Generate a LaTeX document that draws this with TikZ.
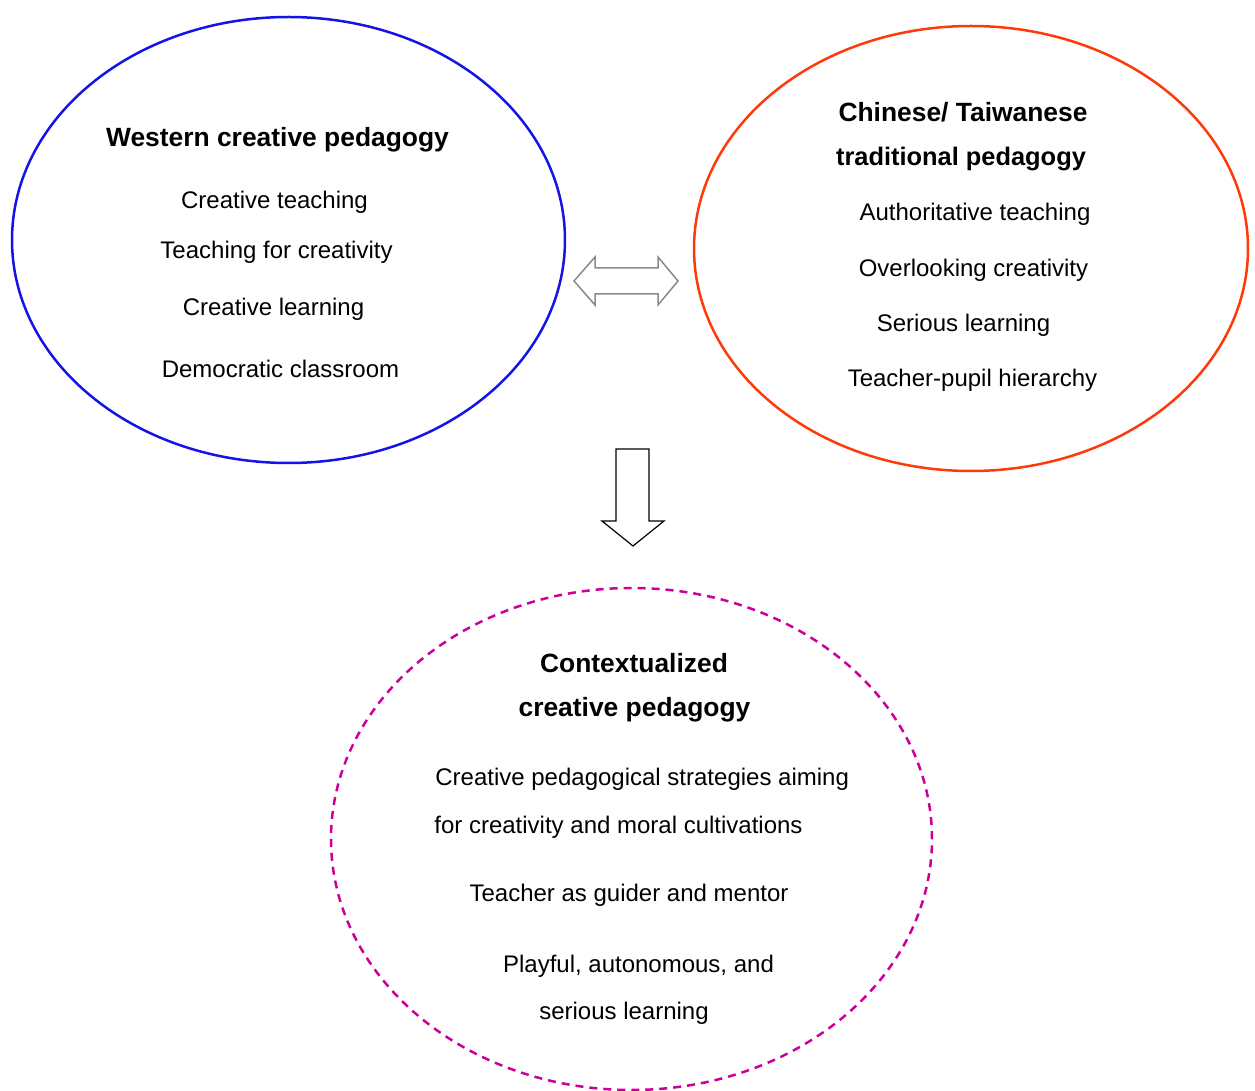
\documentclass[tikz,border=0pt]{standalone}
\usepackage{fontspec}
\setmainfont{Liberation Sans}
\usepackage{tikz}
\usetikzlibrary{shapes.geometric, positioning}
\definecolor{occblue}{HTML}{1414E6}
\definecolor{chnred}{HTML}{FF3A0A}
\definecolor{mixmag}{HTML}{CC0099}
\definecolor{arrgray}{HTML}{8A8A8A}
\tikzset{
  lobe/.style={draw, ellipse, line width=1.25pt, inner sep=0pt},
  titel/.style={font=\fontsize{13.2}{16}\selectfont\bfseries, inner sep=0pt},
  punkt/.style={font=\fontsize{12}{14}\selectfont, inner sep=0pt},
  blockpfeil/.style={line width=0.75pt, line join=miter},
}

\begin{document}
\begin{tikzpicture}[x=0.5pt, y=-0.5pt]
  \useasboundingbox (0,0) rectangle (1255,1091);
  % the three pedagogies
  \node[lobe, draw=occblue, minimum width=276.5pt, minimum height=223pt] (west) at (288.5,240) {};
  \node[lobe, draw=chnred, minimum width=277pt, minimum height=222.5pt] (east) at (971,248.5) {};
  \node[lobe, draw=mixmag, dash pattern=on 4pt off 3pt, minimum width=300.5pt, minimum height=251pt] (ctx) at (631.5,839) {};

  % western side
  \node[titel] (wt) at (277.5,139.5) {Western creative pedagogy};
  \foreach \txt/\xx/\yy [count=\i] in {Creative teaching/274.5/202, Teaching for creativity/276.5/252,
      Creative learning/273.5/309, Democratic classroom/280.5/369}
    \node[punkt] (w\i) at (\xx,\yy) {\txt};

  % chinese / taiwanese side
  \node[titel] (et1) at (963,112) {Chinese/ Taiwanese};
  \node[titel, font=\fontsize{12.7}{16}\selectfont\bfseries] (et2) at (961,159) {traditional pedagogy};
  \foreach \txt/\xx/\yy [count=\i] in {Authoritative teaching/975/214, Overlooking creativity/973.5/270,
      Serious learning/963.5/325, Teacher-pupil hierarchy/972.5/380}
    \node[punkt] (e\i) at (\xx,\yy) {\txt};

  % contextualized result
  \node[titel] (ct1) at (634,663) {Contextualized};
  \node[titel] (ct2) at (634.5,710) {creative pedagogy};
  \node[punkt, anchor=west] (c1) at (435,779) {Creative pedagogical strategies aiming};
  \node[punkt, anchor=west] (c2) at (434,827) {for creativity and moral cultivations};
  \node[punkt] (c3) at (629,895) {Teacher as guider and mentor};
  \node[punkt] (c4) at (638.5,966) {Playful, autonomous, and};
  \node[punkt] (c5) at (624,1013) {serious learning};

  % block arrows
  \draw[blockpfeil, draw=arrgray] (574,281) -- (595,257) -- (595,268) -- (658,268) -- (658,257)
    -- (678,281) -- (658,305) -- (658,294) -- (595,294) -- (595,305) -- cycle;
  \draw[blockpfeil, draw=black, line width=0.6pt] (616,449) -- (649,449) -- (649,521) -- (664,521)
    -- (633,546) -- (602,521) -- (616,521) -- cycle;
\end{tikzpicture}
\end{document}
